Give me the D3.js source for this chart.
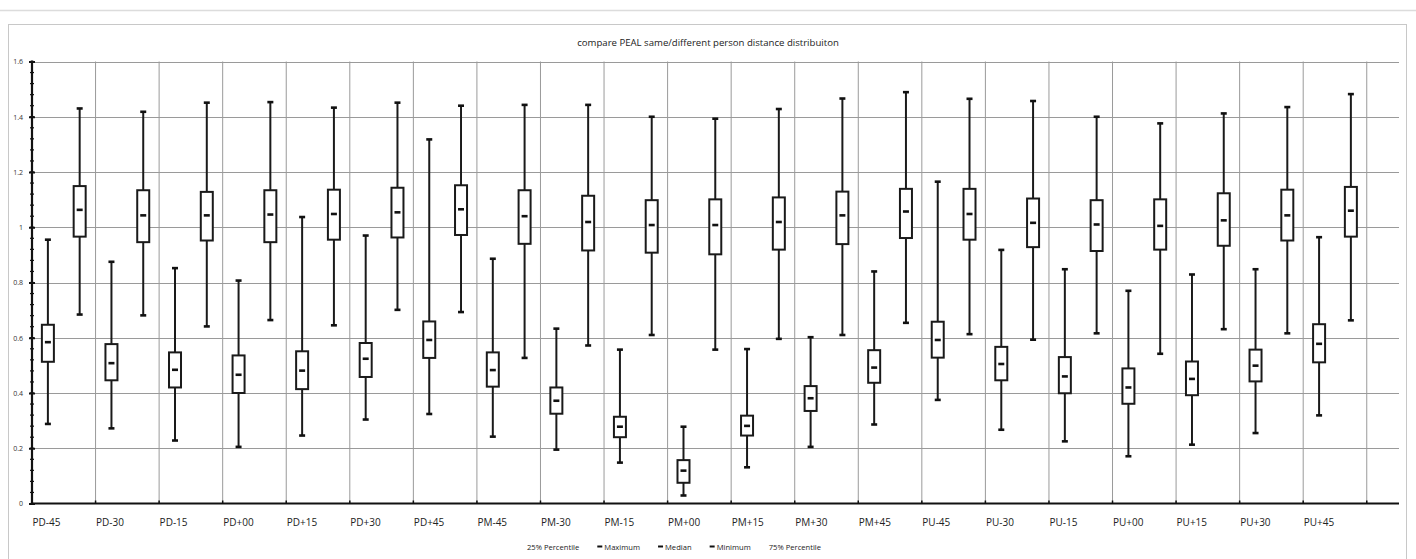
<!DOCTYPE html>
<html>
<head>
<meta charset="utf-8">
<script src="https://cdn.jsdelivr.net/npm/d3@7"></script>
<style>
  body { margin: 0; background: #fff; }
  svg { display: block; font-family: "Open Sans", "Liberation Sans", sans-serif; }
</style>
</head>
<body>
<svg id="chart" width="1416" height="559"></svg>
<script>
// categories along the x axis
const categories = ['PD-45', 'PD-30', 'PD-15', 'PD+00', 'PD+15', 'PD+30', 'PD+45',
    'PM-45', 'PM-30', 'PM-15', 'PM+00', 'PM+15', 'PM+30', 'PM+45',
    'PU-45', 'PU-30', 'PU-15', 'PU+00', 'PU+15', 'PU+30', 'PU+45'];

// same person (lower boxes)
const sameMax = [0.955, 0.875, 0.852, 0.807, 1.037, 0.970, 1.318, 0.886, 0.633, 0.557, 0.278, 0.559, 0.602, 0.840, 1.165, 0.918, 0.848, 0.770, 0.829, 0.848, 0.964];
const sameQ3  = [0.647, 0.577, 0.547, 0.536, 0.551, 0.581, 0.659, 0.547, 0.420, 0.314, 0.157, 0.318, 0.425, 0.555, 0.658, 0.567, 0.530, 0.489, 0.514, 0.557, 0.649];
const sameMed = [0.584, 0.508, 0.484, 0.466, 0.481, 0.524, 0.592, 0.483, 0.372, 0.278, 0.119, 0.281, 0.381, 0.492, 0.592, 0.505, 0.460, 0.420, 0.451, 0.499, 0.578];
const sameQ1  = [0.513, 0.446, 0.420, 0.400, 0.414, 0.458, 0.527, 0.423, 0.325, 0.240, 0.075, 0.246, 0.335, 0.437, 0.528, 0.446, 0.399, 0.361, 0.392, 0.442, 0.511];
const sameMin = [0.288, 0.272, 0.228, 0.205, 0.246, 0.304, 0.324, 0.242, 0.195, 0.148, 0.029, 0.131, 0.205, 0.286, 0.375, 0.267, 0.225, 0.171, 0.213, 0.255, 0.319];

// different person (upper boxes)
const diffMax = [1.430, 1.418, 1.451, 1.453, 1.433, 1.451, 1.440, 1.443, 1.443, 1.400, 1.393, 1.428, 1.466, 1.489, 1.465, 1.457, 1.400, 1.376, 1.412, 1.435, 1.482];
const diffQ3  = [1.149, 1.134, 1.128, 1.134, 1.136, 1.143, 1.152, 1.134, 1.114, 1.098, 1.101, 1.108, 1.129, 1.139, 1.139, 1.104, 1.098, 1.101, 1.123, 1.136, 1.146];
const diffMed = [1.063, 1.043, 1.043, 1.046, 1.048, 1.054, 1.065, 1.040, 1.019, 1.008, 1.008, 1.019, 1.043, 1.057, 1.048, 1.016, 1.010, 1.005, 1.025, 1.043, 1.060];
const diffQ1  = [0.966, 0.946, 0.952, 0.946, 0.955, 0.963, 0.972, 0.940, 0.916, 0.908, 0.902, 0.919, 0.939, 0.961, 0.955, 0.928, 0.914, 0.919, 0.933, 0.952, 0.966];
const diffMin = [0.684, 0.681, 0.641, 0.664, 0.645, 0.701, 0.693, 0.527, 0.572, 0.610, 0.557, 0.596, 0.610, 0.654, 0.613, 0.593, 0.616, 0.542, 0.631, 0.616, 0.663];

const yTicks = [0, 0.2, 0.4, 0.6, 0.8, 1, 1.2, 1.4, 1.6];
const legendItems = ['25% Percentile', 'Maximum', 'Median', 'Minimum', '75% Percentile'];

const svg = d3.select('#chart');
const plotLeft = 32, plotRight = 1399, plotTop = 61.5, plotBottom = 503.5;
const bandW = 63.56;

const x = d3.scaleBand()
    .domain(categories)
    .range([plotLeft, plotLeft + bandW * categories.length])
    .padding(0);

const y = d3.scaleLinear().domain([0, 1.6]).range([plotBottom, plotTop]);

// page decoration
svg.append('line')
    .attr('x1', 0).attr('x2', 1416).attr('y1', 10.5).attr('y2', 10.5)
    .attr('stroke', '#dcdcdc').attr('stroke-width', 1.5);
svg.append('rect')
    .attr('x', 8.5).attr('y', 24.5).attr('width', 1398).attr('height', 545)
    .attr('fill', 'none').attr('stroke', '#c8c8c8');

// title
svg.append('text')
    .attr('x', 708).attr('y', 46)
    .attr('text-anchor', 'middle')
    .attr('font-size', 9.6)
    .attr('fill', '#222')
    .text('compare PEAL same/different person distance distribuiton');

// grid
const grid = svg.append('g');
grid.selectAll('line.h')
    .data(yTicks.filter(t => t > 0))
    .join('line')
    .attr('x1', plotLeft).attr('x2', plotRight)
    .attr('y1', d => Math.round(y(d)) + 0.5).attr('y2', d => Math.round(y(d)) + 0.5)
    .attr('stroke', '#9a9a9a').attr('stroke-width', 1);

const bounds = categories.slice(1).map(c => x(c)).concat([x.range()[1]]);
grid.selectAll('line.v')
    .data(bounds)
    .join('line')
    .attr('x1', d => d).attr('x2', d => d)
    .attr('y1', plotTop).attr('y2', plotBottom)
    .attr('stroke', '#9a9a9a').attr('stroke-width', 1);

// y axis
const yAxis = svg.append('g').attr('transform', `translate(${plotLeft},0)`)
    .call(d3.axisLeft(y).tickValues(yTicks).tickFormat(d3.format('~g')).tickSize(3));
yAxis.select('.domain').remove();
yAxis.selectAll('.tick line').attr('stroke', '#111').attr('stroke-width', 2).attr('x2', 3).attr('x1', -3);
yAxis.selectAll('.tick text').attr('font-size', 7).attr('fill', '#333').attr('x', -9)
    .attr('font-family', '"Open Sans", sans-serif');

const minor = d3.range(0, 1.6001, 0.04);
svg.append('g').selectAll('line')
    .data(minor)
    .join('line')
    .attr('x1', plotLeft - 2).attr('x2', plotLeft + 2)
    .attr('y1', d => y(d)).attr('y2', d => y(d))
    .attr('stroke', '#111').attr('stroke-width', 1.2);

svg.append('line')
    .attr('x1', plotLeft).attr('x2', plotLeft).attr('y1', plotTop - 1).attr('y2', plotBottom + 1)
    .attr('stroke', '#111').attr('stroke-width', 2.2);

// x axis
svg.append('line')
    .attr('x1', plotLeft).attr('x2', plotRight).attr('y1', plotBottom).attr('y2', plotBottom)
    .attr('stroke', '#111').attr('stroke-width', 2.2);
svg.append('g').selectAll('line')
    .data(bounds)
    .join('line')
    .attr('x1', d => d).attr('x2', d => d)
    .attr('y1', plotBottom - 3).attr('y2', plotBottom)
    .attr('stroke', '#111').attr('stroke-width', 1.5);

svg.append('g').selectAll('text')
    .data(categories)
    .join('text')
    .attr('x', d => x(d) + 0.5)
    .attr('y', 526)
    .attr('font-size', 10)
    .attr('fill', '#222')
    .text(d => d);

// boxes
function drawBoxes(name, offset, mins, q1s, meds, q3s, maxs) {
    const rows = categories.map((c, i) => ({
        cx: x(c) + x.bandwidth() * offset,
        min: mins[i], q1: q1s[i], med: meds[i], q3: q3s[i], max: maxs[i]
    }));
    const g = svg.append('g').attr('class', name).selectAll('g')
        .data(rows)
        .join('g');

    g.append('line')
        .attr('x1', d => d.cx).attr('x2', d => d.cx)
        .attr('y1', d => y(d.max)).attr('y2', d => y(d.min))
        .attr('stroke', '#1a1a1a').attr('stroke-width', 2);

    g.append('rect')
        .attr('x', d => d.cx - 6).attr('width', 12)
        .attr('y', d => y(d.q3)).attr('height', d => y(d.q1) - y(d.q3))
        .attr('fill', '#fff').attr('stroke', '#1a1a1a').attr('stroke-width', 2);

    ['max', 'min', 'med'].forEach(k => {
        g.append('line')
            .attr('x1', d => d.cx - 3).attr('x2', d => d.cx + 3)
            .attr('y1', d => y(d[k])).attr('y2', d => y(d[k]))
            .attr('stroke', '#111').attr('stroke-width', 2.6);
    });
}

drawBoxes('same', 0.25, sameMin, sameQ1, sameMed, sameQ3, sameMax);
drawBoxes('diff', 0.75, diffMin, diffQ1, diffMed, diffQ3, diffMax);

// legend: laid out left to right between 527 and 821
const lg = svg.append('g');
const legendTexts = legendItems.map(t => lg.append('text')
    .attr('y', 549.5)
    .attr('font-size', 7.6)
    .attr('fill', '#222')
    .text(t));
const markW = 7;
const widths = legendTexts.map((t, i) => t.node().getComputedTextLength() + (i >= 1 && i <= 3 ? markW : 0));
const gap = (821 - 527 - d3.sum(widths)) / (legendItems.length - 1);
let lx = 527;
legendTexts.forEach((t, i) => {
    const hasMark = i >= 1 && i <= 3;
    if (hasMark) {
        lg.append('line')
            .attr('x1', lx).attr('x2', lx + 5)
            .attr('y1', 546.5).attr('y2', 546.5)
            .attr('stroke', '#111').attr('stroke-width', 2);
    }
    t.attr('x', lx + (hasMark ? markW : 0));
    lx += widths[i] + gap;
});
</script>
</body>
</html>
